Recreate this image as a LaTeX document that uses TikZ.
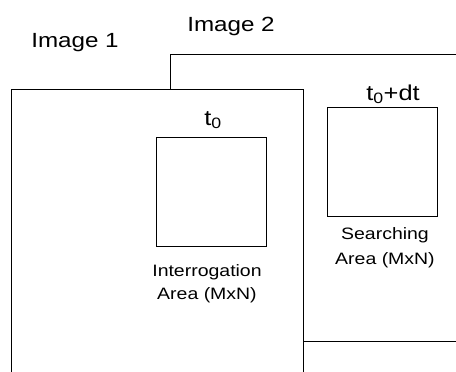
\documentclass[tikz,border=0pt]{standalone}
\usepackage{fontspec}
\setmainfont{Liberation Sans}[FakeStretch=1.18]
\begin{document}
\begin{tikzpicture}[x=1pt,y=-1pt,
  frame/.style={line width=0.9pt},
  area/.style={draw,line width=1pt,inner sep=0pt,anchor=north west},
  big/.style={font=\fontsize{20.5}{22}\selectfont,anchor=base,inner sep=0pt},
  tlab/.style={font=\fontsize{21.5}{22}\selectfont,anchor=base,inner sep=0pt},
  small/.style={font=\fontsize{16.5}{23}\selectfont,anchor=base,inner sep=0pt,align=center}]
\useasboundingbox (0,0) rectangle (456,372);
% Image 2 frame
\draw[frame] (170,89) -- (170,54) -- (456,54);
\draw[frame] (303,341) -- (456,341);
% Image 1 frame
\draw[frame] (11,372) -- (11,89) -- (303,89) -- (303,372);
% labels
\node[big] (im1) at (75,48) {Image 1};
\node[big] (im2) at (231,31) {Image 2};
% areas
\node[area,minimum width=110pt,minimum height=109pt] (ia) at (156,137) {};
\node[area,minimum width=110pt,minimum height=109pt] (sa) at (327,107) {};
\node[tlab] (t0) at (213,125) {t\textsubscript{0}};
\node[tlab] (t1) at (393,100) {t\textsubscript{0}+dt};
\node[small] (il) at (207,276) {Interrogation};
\node[small] (il2) at (207,299) {Area (MxN)};
\node[small] (sl) at (385,239) {Searching};
\node[small] (sl2) at (385,264) {Area (MxN)};
\end{tikzpicture}
\end{document}
